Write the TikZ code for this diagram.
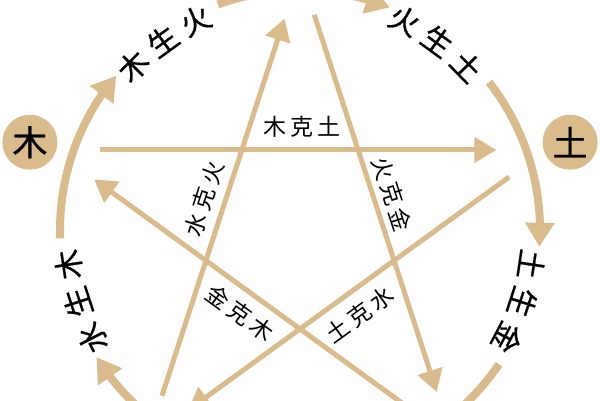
\documentclass[tikz,border=0pt]{standalone}
\usepackage{fontspec}
\newfontfamily\cjk[FakeBold=0.6]{Noto Sans CJK SC}
\newfontfamily\cjkl{Noto Sans CJK SC}
\usetikzlibrary{arrows.meta,bending}
\definecolor{wx}{HTML}{D9BB8C}
\begin{document}
\begin{tikzpicture}[x=1pt,y=1pt,
  ring/.style={line width=8pt, draw=wx, -{Triangle[length=24pt,width=28pt]}},
  ke/.style={line width=5pt, draw=wx, -{Triangle[length=22pt,width=25pt]}, shorten <=46pt, shorten >=50pt},
  elem/.style={circle, fill=wx, minimum size=55pt, inner sep=0pt, font=\cjk\fontsize{35}{35}\selectfont},
  shenglab/.style={font=\cjk\fontsize{30}{30}\selectfont, inner sep=0pt},
  kelab/.style={font=\cjkl\fontsize{23}{23}\selectfont, inner sep=0pt}]
\useasboundingbox (0,0) rectangle (600,400);
\clip (0,0) rectangle (600,400);
\coordinate (O) at (300,170);
\begin{scope}[shift={(O)}]
  % pentagram vertices
  \coordinate (vHuo) at (90:259);
  \coordinate (vTu) at (18:259);
  \coordinate (vJin) at (-54:259);
  \coordinate (vShui) at (-126:259);
  \coordinate (vMu) at (162:259);
  % element circles
  \node[elem] (mu) at (162:284) {木};
  \node[elem] (tu) at (18:284) {土};
  % generating ring
  \foreach \e in {90,18,-54,-126,162}{
    \pgfmathsetmacro{\s}{\e+20}
    \pgfmathsetmacro{\t}{\e-22}
    \draw[ring] (\s:240) arc[start angle=\s, end angle=\t, radius=240];
  }
  % generating labels, one character at a time along the ring
  \foreach \m/\a/\b/\c/\n in {126/木/生/火/A, 54/火/生/土/B, -18/土/生/金/C, 198/水/生/木/D}{
    \pgfmathsetmacro{\pa}{\m+9.5}
    \pgfmathsetmacro{\pc}{\m-9.5}
    \pgfmathsetmacro{\ra}{\pa-90}
    \pgfmathsetmacro{\rb}{\m-90}
    \pgfmathsetmacro{\rc}{\pc-90}
    \node[shenglab, rotate=\ra] (sheng\n1) at (\pa:234) {\a};
    \node[shenglab, rotate=\rb] (sheng\n2) at (\m:234) {\b};
    \node[shenglab, rotate=\rc] (sheng\n3) at (\pc:234) {\c};
  }
\end{scope}
% controlling star
\draw[ke] (vMu) -- (vTu);
\draw[ke] (vHuo) -- (vJin);
\draw[ke] (vTu) -- (vShui);
\draw[ke] (vJin) -- (vMu);
\draw[ke] (vShui) -- (vHuo);
% controlling labels
\node[kelab] (kMT) at (302,273) {木\hspace{4pt}克\hspace{4pt}土};
\node[kelab, rotate=-72] (kHJ) at (392,206) {火\hspace{4pt}克\hspace{4pt}金};
\node[kelab, rotate=72] (kSH) at (204,201) {水\hspace{4pt}克\hspace{4pt}火};
\node[kelab, rotate=-36] (kJM) at (240,87) {金\hspace{4pt}克\hspace{4pt}木};
\node[kelab, rotate=36] (kTS) at (360,85) {土\hspace{4pt}克\hspace{4pt}水};
\end{tikzpicture}
\end{document}
